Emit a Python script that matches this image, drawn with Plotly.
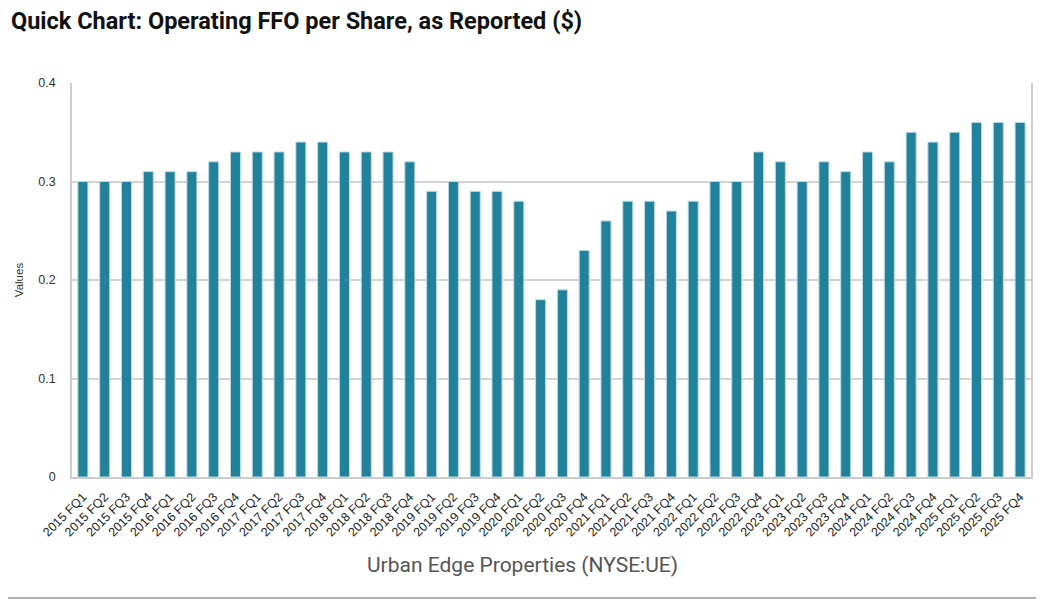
import plotly.graph_objects as go

years = [2015, 2016, 2017, 2018, 2019, 2020, 2021, 2022, 2023, 2024, 2025]
quarters = ["FQ1", "FQ2", "FQ3", "FQ4"]
categories = [f"{y} {q}" for y in years for q in quarters]

values = [
    0.30, 0.30, 0.30, 0.31,
    0.31, 0.31, 0.32, 0.33,
    0.33, 0.33, 0.34, 0.34,
    0.33, 0.33, 0.33, 0.32,
    0.29, 0.30, 0.29, 0.29,
    0.28, 0.18, 0.19, 0.23,
    0.26, 0.28, 0.28, 0.27,
    0.28, 0.30, 0.30, 0.33,
    0.32, 0.30, 0.32, 0.31,
    0.33, 0.32, 0.35, 0.34,
    0.35, 0.36, 0.36, 0.36,
]

y_ticks = [0, 0.1, 0.2, 0.3, 0.4]
y_tick_labels = ["0", "0.1", "0.2", "0.3", "0.4"]

title_text = "Quick Chart: Operating FFO per Share, as Reported ($)"
company = "Urban Edge Properties (NYSE:UE)"

# The page body adds an 8px offset; the figure is sized to fill the rest.
OFF = 8
W, H = 1044 - OFF, 607 - OFF
L, R, T, B = 64, 13, 75, 130
plot_h = H - T - B
plot_w = W - L - R
plot_bottom = H - B

fig = go.Figure()
fig.add_trace(go.Bar(
    x=categories,
    y=values,
    width=0.46,
    marker=dict(color="#23829b", line=dict(color="#b9dbe4", width=1)),
    hoverinfo="x+y",
))

fig.update_layout(
    width=W, height=H,
    margin=dict(l=L, r=R, t=T, b=B, autoexpand=False),
    paper_bgcolor="white",
    plot_bgcolor="white",
    showlegend=False,
    font=dict(family="Roboto, Arial, sans-serif", color="#333333"),
)

fig.add_annotation(
    text="<b>" + title_text + "</b>", xref="paper", yref="paper",
    x=(-L + 1) / plot_w, y=(T - 13 + plot_h) / plot_h,
    xanchor="left", yanchor="middle", showarrow=False,
    font=dict(size=23.5, color="#111111", family="Roboto, Arial, sans-serif"),
)

fig.update_xaxes(
    type="category",
    tickangle=-45,
    tickfont=dict(size=12.5, color="#222222", family="Liberation Sans, Arial, sans-serif"),
    showgrid=False,
    showline=True, linecolor="#cccccc", linewidth=1.5,
    ticks="", mirror=False,
    ticklabelstandoff=6,
    range=[-0.5, len(categories) - 0.5],
    automargin=False,
)
fig.update_yaxes(
    range=[0, 0.4],
    tickvals=y_ticks,
    ticktext=y_tick_labels,
    tickfont=dict(size=12.5, color="#333333", family="Liberation Sans, Arial, sans-serif"),
    showgrid=True, gridcolor="#d3d3d3", gridwidth=1.5,
    showline=True, linecolor="#cccccc", linewidth=1.5, mirror=True,
    zeroline=False,
    ticks="", ticklen=0,
    ticklabelstandoff=12,
    automargin=False,
    title=dict(text="Values", font=dict(size=11.5, color="#333333",
                                        family="Liberation Sans, Arial, sans-serif"), standoff=12),
)

fig.add_annotation(
    text=company, xref="paper", yref="paper",
    x=(514 - L) / plot_w, y=-(557 - plot_bottom) / plot_h,
    xanchor="center", yanchor="middle", showarrow=False,
    font=dict(size=21, color="#555555"),
)

fig.add_shape(
    type="line", xref="paper", yref="paper",
    x0=(-OFF - L) / plot_w, x1=(W + OFF - L) / plot_w,
    y0=-(590 - plot_bottom) / plot_h, y1=-(590 - plot_bottom) / plot_h,
    line=dict(color="#999999", width=1.5),
)

fig.write_html("out.html")
